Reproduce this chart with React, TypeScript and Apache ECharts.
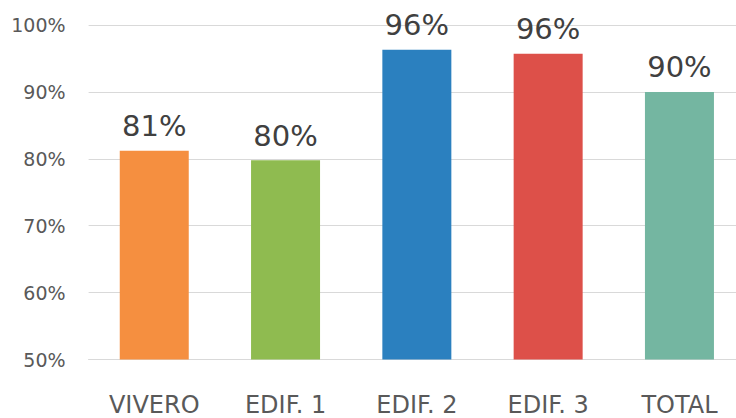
import React, { useEffect, useRef } from "react";
import * as echarts from "echarts";

const categories = ["VIVERO", "EDIF. 1", "EDIF. 2", "EDIF. 3", "TOTAL"];
const values = [81.2, 79.8, 96.3, 95.7, 90.0];
const barColors = ["#F58F40", "#8FBB50", "#2B80BF", "#DD5049", "#74B6A1"];

export default function App() {
  const ref = useRef<HTMLDivElement>(null);
  useEffect(() => {
    const chart = echarts.init(ref.current!, null, { renderer: "svg" });
    chart.setOption({
      animation: false,
      grid: { left: 88.6, top: 25, width: 656.5, height: 334.5, containLabel: false },
      xAxis: {
        type: "category",
        data: categories,
        axisTick: { show: false },
        axisLine: { show: true, lineStyle: { color: "#d9d9d9", width: 1 } },
        axisLabel: {
          margin: 33,
          fontFamily: "DejaVu Sans",
          fontSize: 24,
          color: "#595959",
        },
      },
      yAxis: {
        type: "value",
        min: 50,
        max: 100,
        interval: 10,
        axisLine: { show: false },
        axisTick: { show: false },
        splitLine: { lineStyle: { color: "#d9d9d9", width: 1 } },
        axisLabel: {
          formatter: "{value}%",
          margin: 23,
          fontFamily: "DejaVu Sans",
          fontSize: 19,
          color: "#595959",
        },
      },
      series: [
        {
          type: "bar",
          barWidth: 69,
          data: values.map((v, i) => ({ value: v, itemStyle: { color: barColors[i] } })),
          label: {
            show: true,
            position: "top",
            distance: 10,
            fontFamily: "DejaVu Sans",
            fontSize: 29,
            color: "#404040",
            formatter: (p: any) => Math.round(p.value) + "%",
          },
        },
      ],
    });
    return () => chart.dispose();
  }, []);
  return (
    <div style={{ width: 736, height: 418, position: "absolute", left: 0, top: 0, overflow: "hidden" }}>
      <div ref={ref} style={{ width: 746, height: 418 }} />
    </div>
  );
}
